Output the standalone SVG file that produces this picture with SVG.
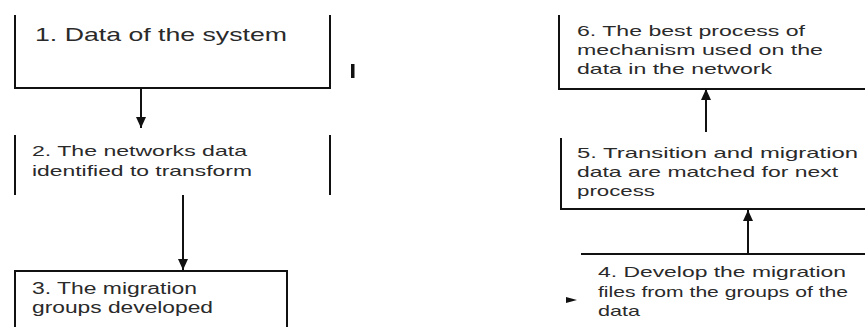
<svg xmlns="http://www.w3.org/2000/svg" width="865" height="327" viewBox="0 0 865 327">
<style>
.ln{fill:none;stroke:#111;stroke-width:2}
.t{font-family:"Liberation Sans",Arial,sans-serif;fill:#2a2a2a}
.s15{font-size:15px}.s16{font-size:16px}.s19{font-size:19px}
</style>
<defs>
<marker id="ah" markerUnits="userSpaceOnUse" markerWidth="12" markerHeight="12" viewBox="0 0 12 12" refX="11" refY="6" orient="auto">
<path d="M0,1 L11,6 L0,11 Z" fill="#111"/>
</marker>
</defs>
<rect width="865" height="327" fill="#fff"/>
<g id="node1">
<path class="ln" d="M15,15 V88 H330 V15"/>
<text class="t s19" x="35" y="41" textLength="252" lengthAdjust="spacingAndGlyphs">1. Data of the system</text>
</g>
<g id="mark"><rect x="351" y="64" width="3.5" height="14" fill="#111"/></g>
<g id="node2">
<path class="ln" d="M15,135 V195 M330,135 V195"/>
<text class="t s15" x="32" y="156" textLength="215" lengthAdjust="spacingAndGlyphs">2. The networks data</text>
<text class="t s15" x="32" y="176" textLength="220" lengthAdjust="spacingAndGlyphs">identified to transform</text>
</g>
<g id="node3">
<path class="ln" d="M15,327 V271 H287 V327"/>
<text class="t s16" x="32" y="294" textLength="165" lengthAdjust="spacingAndGlyphs">3. The migration</text>
<text class="t s16" x="32" y="313" textLength="181" lengthAdjust="spacingAndGlyphs">groups developed</text>
</g>
<g id="node6">
<path class="ln" d="M559,15 V89 H865"/>
<text class="t s15" x="577" y="36" textLength="228" lengthAdjust="spacingAndGlyphs">6. The best process of</text>
<text class="t s15" x="577" y="55" textLength="246" lengthAdjust="spacingAndGlyphs">mechanism used on the</text>
<text class="t s15" x="577" y="74" textLength="195" lengthAdjust="spacingAndGlyphs">data in the network</text>
</g>
<g id="node5">
<path class="ln" d="M561,138 V209 H865"/>
<text class="t s15" x="577" y="158" textLength="281" lengthAdjust="spacingAndGlyphs">5. Transition and migration</text>
<text class="t s15" x="577" y="177" textLength="261" lengthAdjust="spacingAndGlyphs">data are matched for next</text>
<text class="t s15" x="577" y="196" textLength="78" lengthAdjust="spacingAndGlyphs">process</text>
</g>
<g id="node4">
<path class="ln" d="M581,254 H865"/>
<path d="M566,297 L577,300 L566,303 Z" fill="#111"/>
<text class="t s15" x="598" y="277" textLength="248" lengthAdjust="spacingAndGlyphs">4. Develop the migration</text>
<text class="t s15" x="598" y="297" textLength="250" lengthAdjust="spacingAndGlyphs">files from the groups of the</text>
<text class="t s15" x="598" y="316" textLength="42" lengthAdjust="spacingAndGlyphs">data</text>
</g>
<g id="connectors">
<path class="ln" d="M141,88 V128" marker-end="url(#ah)"/>
<path class="ln" d="M183,195 V270" marker-end="url(#ah)"/>
<path class="ln" d="M748,254 V210" marker-end="url(#ah)"/>
<path class="ln" d="M706,132 V89" marker-end="url(#ah)"/>
</g>
</svg>
